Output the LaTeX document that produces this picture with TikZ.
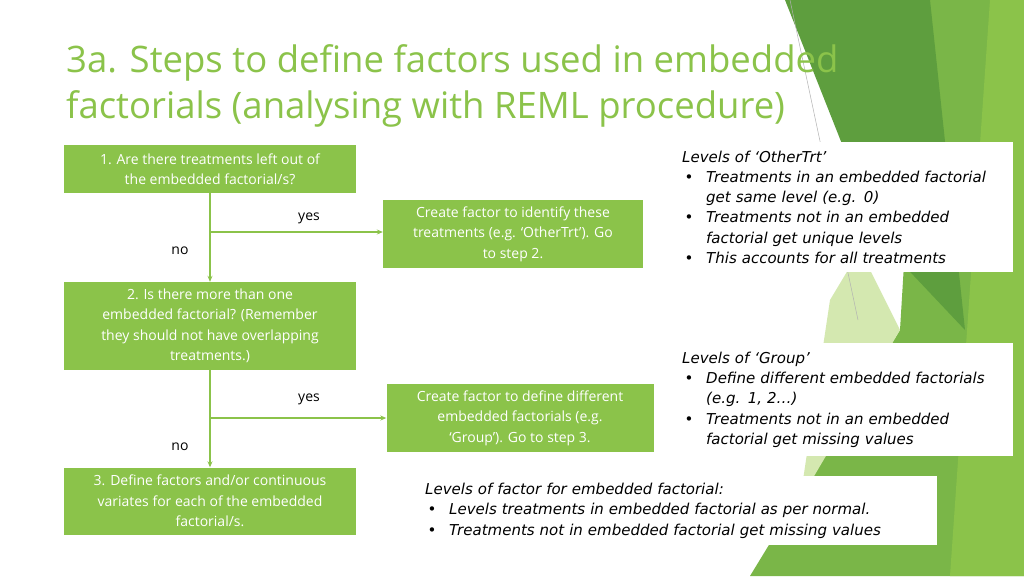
\documentclass[tikz,border=0pt]{standalone}
\usepackage{fontspec}
\setmainfont{Open Sans}
\newfontfamily\itfont{DejaVu Sans}
\usetikzlibrary{arrows.meta}
\definecolor{leaf}{HTML}{8BC34A}
\definecolor{darkleaf}{HTML}{5E9E3E}
\definecolor{midleaf}{HTML}{7AB648}
\definecolor{paleleaf}{HTML}{D4E8B0}
\tikzset{
  stepbox/.style={fill=leaf,text=white,align=center,font=\fontsize{14}{20.5}\selectfont,inner sep=0pt},
  notebox/.style={fill=white,align=left,anchor=north west,font=\itfont\itshape\fontsize{15}{20.2}\selectfont,inner sep=0pt},
  flow/.style={draw=leaf,line width=1.5pt,-{Stealth[length=6pt,width=5pt]}},
  answer/.style={font=\fontsize{14}{16}\selectfont}
}
\begin{document}
\begin{tikzpicture}[x=1pt,y=-1pt]
	\useasboundingbox (0,0) rectangle (1024,576);
	\fill[white] (0,0) rectangle (1024,576);
	
	% green decoration on the right
	\fill[midleaf] (920,0) -- (1024,0) -- (1024,576) -- (750,576) -- (900,330) -- cycle;
	\fill[darkleaf] (785,0) -- (930,0) -- (965,330) -- (880,240) -- cycle;
	\fill[paleleaf] (860,250) -- (900,330) -- (800,500) -- (830,300) -- cycle;
	\fill[leaf] (990,0) -- (1024,0) -- (1024,576) -- (950,576) -- cycle;
	\draw[gray!60,line width=0.5pt] (790,0) -- (858,320);
	
	% title
	\node[anchor=base west,text=leaf,font=\fontsize{36.5}{40}\selectfont,inner sep=0pt] (title1) at (66,72) {3a. Steps to define factors used in embedded};
	\node[anchor=base west,text=leaf,font=\fontsize{36.5}{40}\selectfont,inner sep=0pt] (title2) at (66,118) {factorials (analysing with REML procedure)};
	
	% steps
	\node[stepbox,minimum width=292pt,minimum height=48pt] (q1) at (210,169) {1. Are there treatments left out of\\the embedded factorial/s?};
	\node[stepbox,minimum width=292pt,minimum height=88pt] (q2) at (210,326) {2. Is there more than one\\embedded factorial? (Remember\\they should not have overlapping\\treatments.)};
	\node[stepbox,minimum width=292pt,minimum height=67pt] (q3) at (210,501) {3. Define factors and/or continuous\\variates for each of the embedded\\factorial/s.};
	\node[stepbox,minimum width=260pt,minimum height=68pt] (a1) at (513,234) {Create factor to identify these\\treatments (e.g. ‘OtherTrt’). Go\\to step 2.};
	\node[stepbox,minimum width=267pt,minimum height=68pt] (a2) at (520,418) {Create factor to define different\\embedded factorials (e.g.\\‘Group’). Go to step 3.};
	
	% connectors
	\coordinate (j1) at (210,232);
	\coordinate (j2) at (210,418);
	\draw[flow] (q1) -- (q2);
	\draw[flow] (j1) -- (a1.west |- j1);
	\draw[flow] (q2) -- (q3);
	\draw[flow] (j2) -- (a2.west |- j2);
	\node[answer] (yes1) at (309,218) {yes};
	\node[answer] (no1) at (180,251) {no};
	\node[answer] (yes2) at (309,399) {yes};
	\node[answer] (no2) at (180,447) {no};
	
	% notes
	\node[notebox,minimum width=338pt,minimum height=130pt,inner xsep=7pt,inner ysep=6pt,text width=324pt] (n1) at (675,142) {%
		Levels of ‘OtherTrt’\\
		\makebox[24pt][l]{\,•}Treatments in an embedded factorial\\
		\hspace*{24pt}get same level (e.g. 0)\\
		\makebox[24pt][l]{\,•}Treatments not in an embedded\\
		\hspace*{24pt}factorial get unique levels\\
		\makebox[24pt][l]{\,•}This accounts for all treatments};
	\node[notebox,minimum width=338pt,minimum height=113pt,inner xsep=7pt,inner ysep=5pt,text width=324pt] (n2) at (675,343) {%
		Levels of ‘Group’\\
		\makebox[24pt][l]{\,•}Define different embedded factorials\\
		\hspace*{24pt}(e.g. 1, 2…)\\
		\makebox[24pt][l]{\,•}Treatments not in an embedded\\
		\hspace*{24pt}factorial get missing values};
	\node[notebox,minimum width=522pt,minimum height=69pt,inner xsep=10pt,inner ysep=5pt,text width=502pt] (n3) at (415,476) {%
		Levels of factor for embedded factorial:\\
		\makebox[24pt][l]{\,•}Levels treatments in embedded factorial as per normal.\\
		\makebox[24pt][l]{\,•}Treatments not in embedded factorial get missing values};
\end{tikzpicture}
\end{document}
